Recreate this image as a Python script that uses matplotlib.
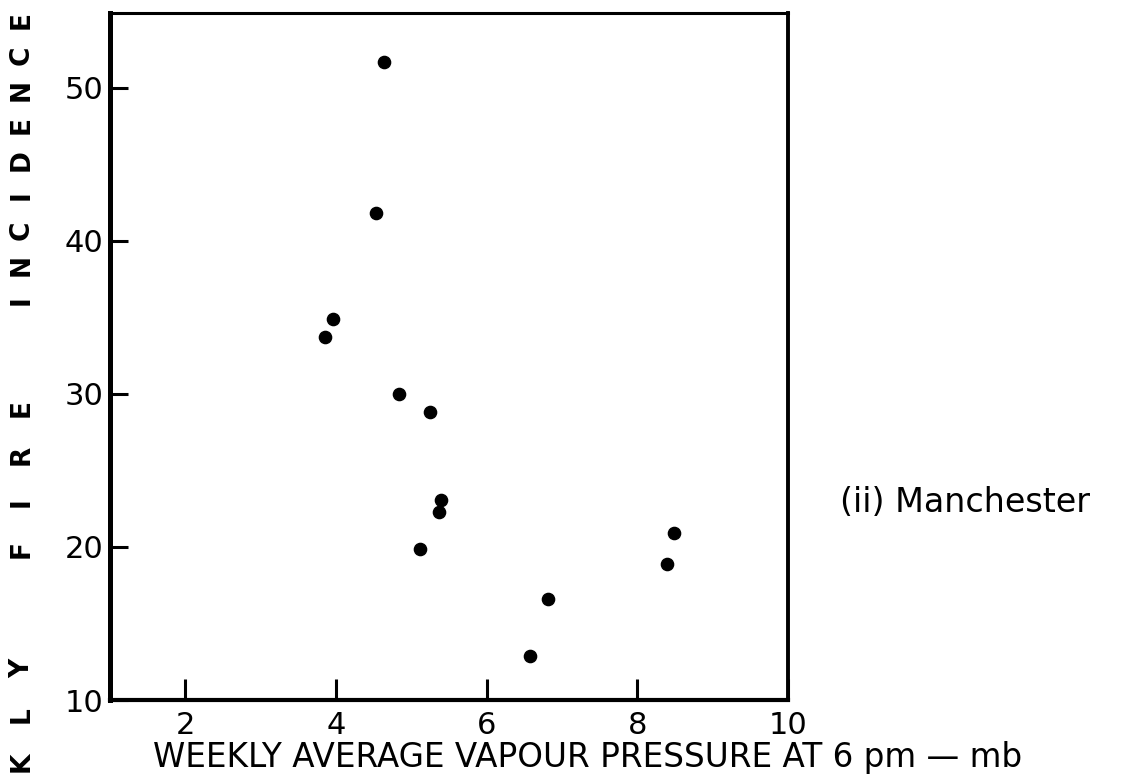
import matplotlib
matplotlib.use("Agg")
import matplotlib.pyplot as plt

# Data
vapour_pressure = [4.64, 4.53, 3.96, 3.85, 4.84, 5.25, 5.40, 5.37, 5.12, 6.82, 6.58, 8.49, 8.39]
fire_incidence = [51.7, 41.8, 34.9, 33.7, 30.0, 28.8, 23.1, 22.3, 19.9, 16.6, 12.9, 20.9, 18.9]
x_ticks = [2, 4, 6, 8, 10]
y_ticks = [10, 20, 30, 40, 50]
x_label = "WEEKLY AVERAGE VAPOUR PRESSURE AT 6 pm \u2014 mb"
y_label_words = ["WEEKLY", "FIRE", "INCIDENCE"]
panel_label = "(ii) Manchester"

W, H = 1132, 778
fig = plt.figure(figsize=(W / 100, H / 100), dpi=100)
fig.patch.set_facecolor("white")
ax = fig.add_axes([110 / W, 1 - 700 / H, (788 - 110) / W, (700 - 13) / H])

ax.plot(vapour_pressure, fire_incidence, "o", color="black", markersize=8.8, linestyle="none")

ax.set_xlim(1, 10)
ax.set_ylim(10, 54.9)
ax.set_xticks(x_ticks)
ax.set_yticks(y_ticks)
ax.set_xticklabels([str(t) for t in x_ticks])
ax.set_yticklabels([str(t) for t in y_ticks])

for side, lw in [("left", 3.6), ("bottom", 3.0), ("top", 2.2), ("right", 2.8)]:
    ax.spines[side].set_linewidth(lw)
    ax.spines[side].set_color("black")

ax.tick_params(axis="x", direction="in", length=15, width=2.2, pad=8, labelsize=22, colors="black")
ax.tick_params(axis="y", direction="in", length=13, width=2.2, pad=5, labelsize=22, colors="black")

fig.text((140 + 1035) / 2 / W, 1 - 758 / H, x_label, ha="center", va="center", fontsize=23.5, color="black")

fig.text(840 / W, 1 - 503 / H, panel_label, ha="left", va="center", fontsize=24, color="black")

# Spaced vertical y-axis label, letter by letter (reading bottom to top)
x_lab = 22 / W
word_layout = {  # (y of first letter from top in px, pitch in px) - letters go upward
    "WEEKLY": (903, 47),
    "FIRE": (549, 47),
    "INCIDENCE": (300, 35),
}
for word in y_label_words:
    start, pitch = word_layout[word]
    for i, ch in enumerate(word):
        ypx = start - i * pitch
        if 0 <= ypx <= H:
            fig.text(x_lab, 1 - ypx / H, ch, rotation=90, ha="center", va="center",
                     fontsize=19, fontweight="bold", color="black")

fig.savefig("out.png", dpi=100, facecolor="white")
